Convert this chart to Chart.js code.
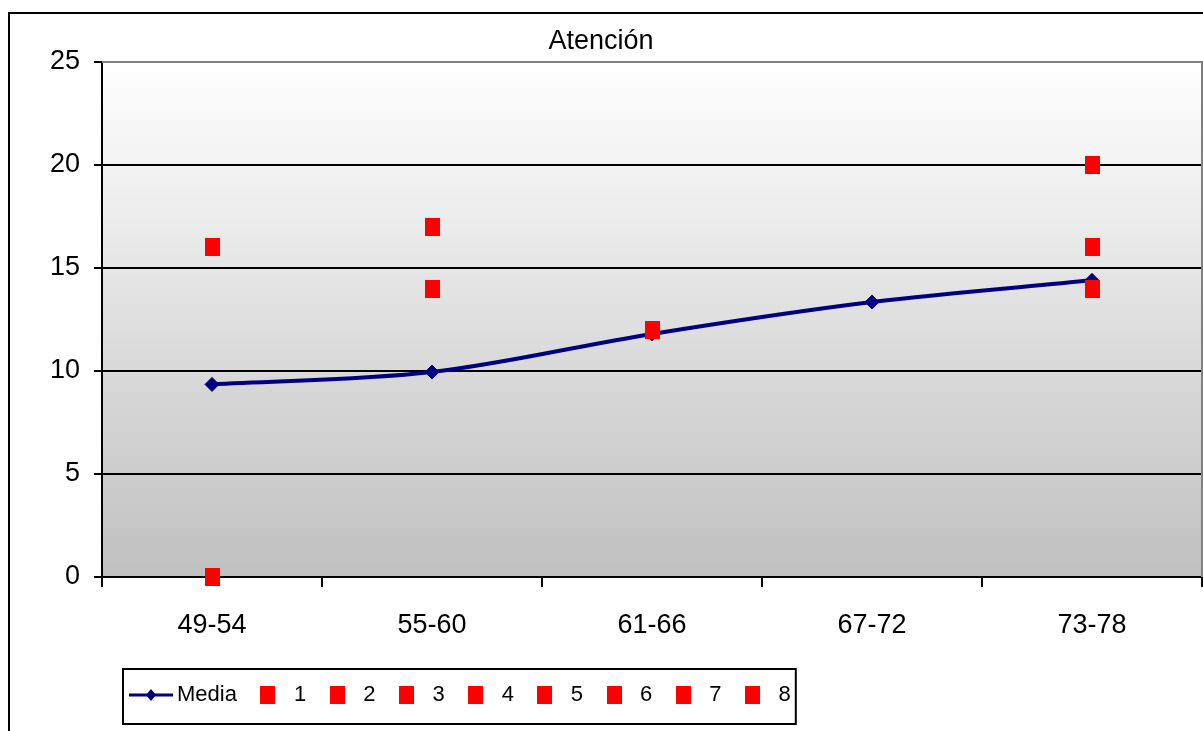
<!DOCTYPE html>
<html>
<head>
<meta charset="utf-8">
<title>Atención</title>
<script src="https://cdn.jsdelivr.net/npm/chart.js@4.4.1/dist/chart.umd.min.js"></script>
<style>
  html, body { margin: 0; padding: 0; background: #fff; overflow: hidden; }
</style>
</head>
<body>
<canvas id="myChart" width="1203" height="731"></canvas>
<script>
// Age groups along the bottom
const ageGroups = ['49-54', '55-60', '61-66', '67-72', '73-78'];
// Y axis tick labels
const yTicks = [0, 5, 10, 15, 20, 25];

// Smoothed "Media" line
const mediaValues = [9.35, 9.95, 11.8, 13.35, 14.4];

// Single scores, one list per subject (null = nothing in that group)
const subject1 = [16, null, null, null, null];
const subject2 = [0, null, null, null, null];
const subject3 = [null, 17, null, null, null];
const subject4 = [null, 14, null, null, null];
const subject5 = [null, null, 12, null, null];
const subject6 = [null, null, null, null, 20];
const subject7 = [null, null, null, null, 16];
const subject8 = [null, null, null, null, 14];
const subjectNames = ['1', '2', '3', '4', '5', '6', '7', '8'];
const subjects = [subject1, subject2, subject3, subject4, subject5, subject6, subject7, subject8];

const FONT = "'Liberation Sans Narrow', 'Arial Narrow', 'Liberation Sans', Arial, sans-serif";
const NAVY = '#000080';
const RED = '#ff0000';

//Red rectangle used for the subject points and their legend keys
function redMarker() {
    const c = document.createElement('canvas');
    c.width = 15; c.height = 18;
    const x = c.getContext('2d');
    x.fillStyle = RED;
    x.fillRect(0, 0, 15, 18);
    return c;
}

//Line with a small diamond, legend key for "Media"
function mediaKey() {
    const c = document.createElement('canvas');
    c.width = 44; c.height = 14;
    const x = c.getContext('2d');
    x.strokeStyle = NAVY;
    x.lineWidth = 3;
    x.beginPath(); x.moveTo(0, 7); x.lineTo(44, 7); x.stroke();
    x.fillStyle = NAVY;
    x.beginPath();
    x.moveTo(22, 1); x.lineTo(27, 7); x.lineTo(22, 13); x.lineTo(17, 7);
    x.closePath(); x.fill();
    return c;
}

const marker = redMarker();
const lineKey = mediaKey();

// grey-gradient plot area, outer frame, grey top/right edge
const plotBackground = {
    id: 'plotBackground',
    beforeDraw(chart) {
        const { ctx, chartArea: a } = chart;
        ctx.save();
        ctx.strokeStyle = '#000';
        ctx.lineWidth = 2;
        ctx.strokeRect(9, 13, 1400, 900);
        const g = ctx.createLinearGradient(0, a.top, 0, a.bottom);
        g.addColorStop(0, '#ffffff');
        g.addColorStop(1, '#c0c0c0');
        ctx.fillStyle = g;
        ctx.fillRect(a.left, a.top, a.right - a.left, a.bottom - a.top);
        ctx.restore();
    },
    beforeDatasetsDraw(chart) {
        const { ctx, chartArea: a } = chart;
        ctx.save();
        ctx.strokeStyle = '#808080';
        ctx.lineWidth = 2;
        ctx.beginPath();
        ctx.moveTo(a.left, a.top);
        ctx.lineTo(a.right, a.top);
        ctx.lineTo(a.right, a.bottom);
        ctx.stroke();
        ctx.restore();
    }
};

// moves the legend to the left and puts a frame round it
const legendBox = {
    id: 'legendBox',
    afterLayout(chart) {
        chart.legend.left = 120;
    },
    afterDraw(chart) {
        const lg = chart.legend;
        const boxes = lg.legendHitBoxes;
        if (!boxes || !boxes.length) return;
        const last = boxes[boxes.length - 1];
        const ctx = chart.ctx;
        ctx.save();
        ctx.strokeStyle = '#000';
        ctx.lineWidth = 2;
        ctx.strokeRect(123, lg.top + 1, last.left + last.width + 5 - 123, 55);
        ctx.restore();
    }
};

function chartIt() {
    Chart.defaults.font.family = FONT;
    Chart.defaults.color = '#000';

    const datasets = [{
        label: 'Media',
        data: mediaValues,
        borderColor: NAVY,
        backgroundColor: NAVY,
        borderWidth: 4,
        tension: 0.33,
        pointStyle: 'rectRot',
        pointRadius: 7,
        pointBackgroundColor: NAVY,
        pointBorderColor: NAVY,
        pointBorderWidth: 1,
        order: 1,
        clip: false
    }];
    subjects.forEach((vals, i) => {
        datasets.push({
            label: subjectNames[i],
            data: vals,
            showLine: false,
            pointStyle: marker,
            pointRadius: 9,
            backgroundColor: RED,
            borderColor: RED,
            order: 0,
            clip: false
        });
    });

    const ctx = document.getElementById('myChart').getContext('2d');
    new Chart(ctx, {
        type: 'line',
        data: { labels: ageGroups, datasets: datasets },
        options: {
            responsive: false,
            animation: false,
            events: [],
            // no extra room for the point markers, the plot must reach x=1202
            layout: { autoPadding: false, padding: { left: 0, right: 1, top: 0, bottom: 15 } },
            plugins: {
                title: {
                    display: true,
                    text: 'Atención',
                    color: '#000',
                    font: { size: 27, weight: 'normal' },
                    padding: { top: 25, bottom: 4.6 }
                },
                legend: {
                    position: 'bottom',
                    align: 'start',
                    labels: {
                        usePointStyle: true,
                        pointStyleWidth: 30,
                        padding: 16,
                        color: '#000',
                        font: { size: 22 },
                        generateLabels(chart) {
                            return chart.data.datasets.map((ds, i) => ({
                                text: ds.label,
                                pointStyle: i === 0 ? lineKey : marker,
                                fillStyle: 'transparent',
                                strokeStyle: 'transparent',
                                lineWidth: 0,
                                hidden: false,
                                datasetIndex: i,
                                fontColor: '#000'
                            }));
                        }
                    }
                },
                tooltip: { enabled: false }
            },
            scales: {
                x: {
                    offset: true,
                    grid: {
                        offset: true,
                        drawOnChartArea: false,
                        drawTicks: true,
                        tickLength: 10,
                        color: '#000',
                        tickColor: '#000',
                        lineWidth: 2
                    },
                    border: { color: '#000', width: 2 },
                    ticks: { font: { size: 27 }, color: '#000', padding: 22, maxRotation: 0 },
                    afterFit(scale) {
                        scale.height = 91;
                        scale.paddingLeft = 0;
                        scale.paddingRight = 0;
                    }
                },
                y: {
                    min: 0,
                    max: 25,
                    afterBuildTicks(scale) {
                        scale.ticks = yTicks.map(v => ({ value: v }));
                    },
                    grid: {
                        color: c => (c.tick && c.tick.value === 25 ? '#808080' : '#000'),
                        tickColor: '#000',
                        lineWidth: 2,
                        tickLength: 8
                    },
                    border: { color: '#000', width: 2 },
                    ticks: { font: { size: 27 }, color: '#000', padding: 14 },
                    afterFit(scale) { scale.width = 102; }
                }
            }
        },
        plugins: [plotBackground, legendBox]
    });
}

if (document.fonts && document.fonts.load) {
    document.fonts.load("27px 'Liberation Sans Narrow'").finally(chartIt);
} else {
    chartIt();
}
</script>
</body>
</html>
